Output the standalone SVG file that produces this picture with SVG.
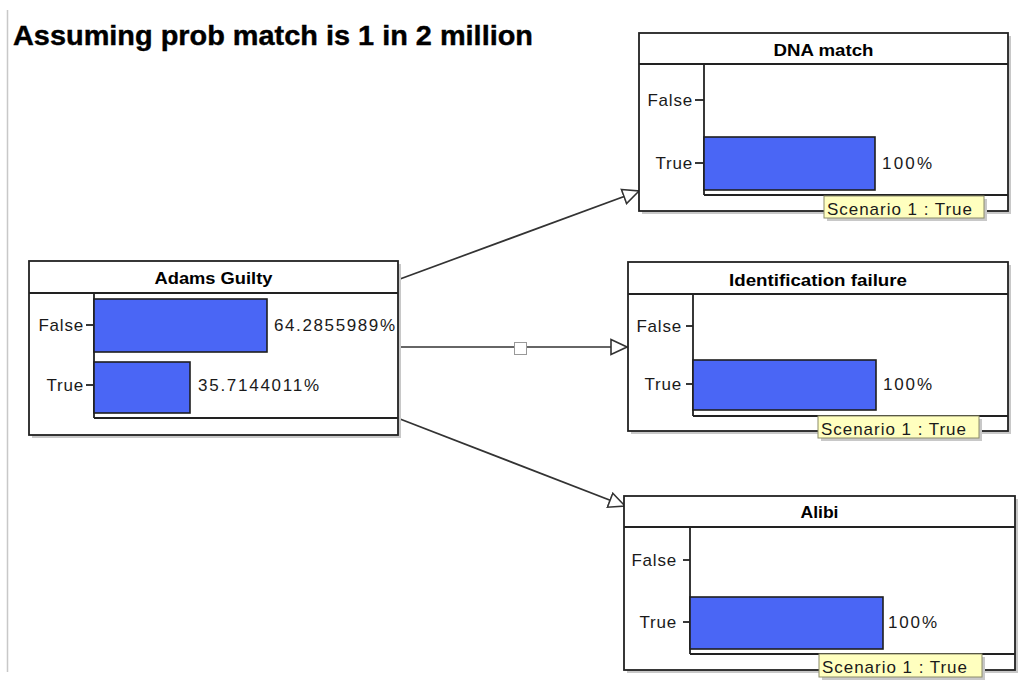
<svg xmlns="http://www.w3.org/2000/svg" width="1025" height="681" viewBox="0 0 1025 681">
<defs>
<style>
.frame{fill:#fff;stroke:#222;stroke-width:1.8}
.shadow{fill:#c8c8c8}
.sep{stroke:#222;stroke-width:1.8;fill:none}
.bar{fill:#4a66f5;stroke:#1e1e1e;stroke-width:1.6}
.title{font-family:"Liberation Sans",Arial,sans-serif;font-weight:bold;font-size:17px;fill:#000;text-anchor:middle}
.lbl{font-family:"Liberation Sans",Arial,sans-serif;font-size:17px;fill:#1a1a1a;text-anchor:end;letter-spacing:0.8px}
.val{font-family:"Liberation Sans",Arial,sans-serif;font-size:17px;fill:#1a1a1a}
.scen{fill:#ffffbf;stroke:#8c8c6a;stroke-width:1}
.scentext{font-family:"Liberation Sans",Arial,sans-serif;font-size:17px;fill:#1a1a1a}
.conn{stroke:#333;stroke-width:1.7;fill:none;marker-end:url(#arr)}
</style>
<marker id="arr" viewBox="0 0 18 18" refX="17" refY="9" markerWidth="18" markerHeight="18" markerUnits="userSpaceOnUse" orient="auto">
<path d="M1,1.5 L17,9 L1,16.5 Z" fill="#fff" stroke="#333" stroke-width="1.6"/>
</marker>
</defs>
<rect width="1025" height="681" fill="#fff"/>
<line x1="7.5" y1="10" x2="7.5" y2="672" stroke="#c8c8c8" stroke-width="1.5"/>
<text x="13" y="45" font-family="Liberation Sans,Arial,sans-serif" font-weight="bold" font-size="27" fill="#000" stroke="#000" stroke-width="0.4" textLength="520" lengthAdjust="spacingAndGlyphs">Assuming prob match is 1 in 2 million</text>

<g id="connectors">
<line class="conn" x1="400" y1="279" x2="639" y2="191"/>
<line class="conn" x1="400" y1="347" x2="627" y2="347"/>
<line class="conn" x1="400" y1="419" x2="625" y2="506"/>
<rect x="514.5" y="342.5" width="12" height="12" fill="#fff" stroke="#999" stroke-width="1"/>
</g>

<g id="adams-guilty">
<rect class="shadow" x="32" y="264" width="369" height="174"/>
<rect class="frame" x="29" y="261" width="369" height="174"/>
<line class="sep" x1="29" y1="293" x2="398" y2="293"/>
<text class="title" x="213.5" y="284" textLength="118" lengthAdjust="spacingAndGlyphs">Adams Guilty</text>
<line class="sep" x1="94" y1="293" x2="94" y2="418"/>
<line class="sep" x1="94" y1="418" x2="398" y2="418"/>
<rect class="bar" x="94" y="299" width="173" height="53"/>
<rect class="bar" x="94" y="362" width="96" height="51"/>
<line class="sep" x1="86" y1="325" x2="94" y2="325"/>
<line class="sep" x1="86" y1="385" x2="94" y2="385"/>
<text class="lbl" x="84" y="331">False</text>
<text class="lbl" x="84" y="391">True</text>
<text class="val" x="274" y="331" textLength="121">64.2855989%</text>
<text class="val" x="198" y="391" textLength="121">35.7144011%</text>
</g>

<g id="dna-match">
<rect class="shadow" x="642" y="36" width="369" height="178"/>
<rect class="frame" x="639" y="33" width="369" height="178"/>
<line class="sep" x1="639" y1="64" x2="1008" y2="64"/>
<text class="title" x="823.5" y="56" textLength="100" lengthAdjust="spacingAndGlyphs">DNA match</text>
<line class="sep" x1="704" y1="64" x2="704" y2="195"/>
<line class="sep" x1="704" y1="195" x2="1008" y2="195"/>
<rect class="bar" x="704" y="137" width="171" height="53"/>
<line class="sep" x1="695" y1="100" x2="704" y2="100"/>
<line class="sep" x1="695" y1="163" x2="704" y2="163"/>
<text class="lbl" x="693" y="106">False</text>
<text class="lbl" x="693" y="169">True</text>
<text class="val" x="882" y="169" textLength="50">100%</text>
<rect class="shadow" x="827" y="199" width="160" height="22"/>
<rect class="scen" x="824" y="196" width="160" height="22"/>
<text class="scentext" x="827" y="215" textLength="145">Scenario 1 : True</text>
</g>

<g id="identification-failure">
<rect class="shadow" x="631" y="265" width="380" height="169"/>
<rect class="frame" x="628" y="262" width="380" height="169"/>
<line class="sep" x1="628" y1="294" x2="1008" y2="294"/>
<text class="title" x="818" y="286" textLength="178" lengthAdjust="spacingAndGlyphs">Identification failure</text>
<line class="sep" x1="693" y1="294" x2="693" y2="416"/>
<line class="sep" x1="693" y1="416" x2="1008" y2="416"/>
<rect class="bar" x="693" y="360" width="183" height="50"/>
<line class="sep" x1="686" y1="326" x2="693" y2="326"/>
<line class="sep" x1="686" y1="384" x2="693" y2="384"/>
<text class="lbl" x="682" y="332">False</text>
<text class="lbl" x="682" y="390">True</text>
<text class="val" x="883" y="390" textLength="49">100%</text>
<rect class="shadow" x="821" y="419" width="161" height="22"/>
<rect class="scen" x="818" y="416" width="161" height="22"/>
<text class="scentext" x="821" y="435" textLength="145">Scenario 1 : True</text>
</g>

<g id="alibi">
<rect class="shadow" x="627" y="499" width="391" height="174"/>
<rect class="frame" x="624" y="496" width="391" height="174"/>
<line class="sep" x1="624" y1="527" x2="1015" y2="527"/>
<text class="title" x="819.5" y="518" textLength="38" lengthAdjust="spacingAndGlyphs">Alibi</text>
<line class="sep" x1="690" y1="527" x2="690" y2="654"/>
<line class="sep" x1="690" y1="654" x2="1015" y2="654"/>
<rect class="bar" x="690" y="597" width="193" height="52"/>
<line class="sep" x1="683" y1="560" x2="690" y2="560"/>
<line class="sep" x1="683" y1="622" x2="690" y2="622"/>
<text class="lbl" x="677" y="566">False</text>
<text class="lbl" x="677" y="628">True</text>
<text class="val" x="888" y="628" textLength="49">100%</text>
<rect class="shadow" x="822" y="657" width="163" height="23"/>
<rect class="scen" x="819" y="654" width="163" height="23"/>
<text class="scentext" x="822" y="673" textLength="145">Scenario 1 : True</text>
</g>
</svg>
